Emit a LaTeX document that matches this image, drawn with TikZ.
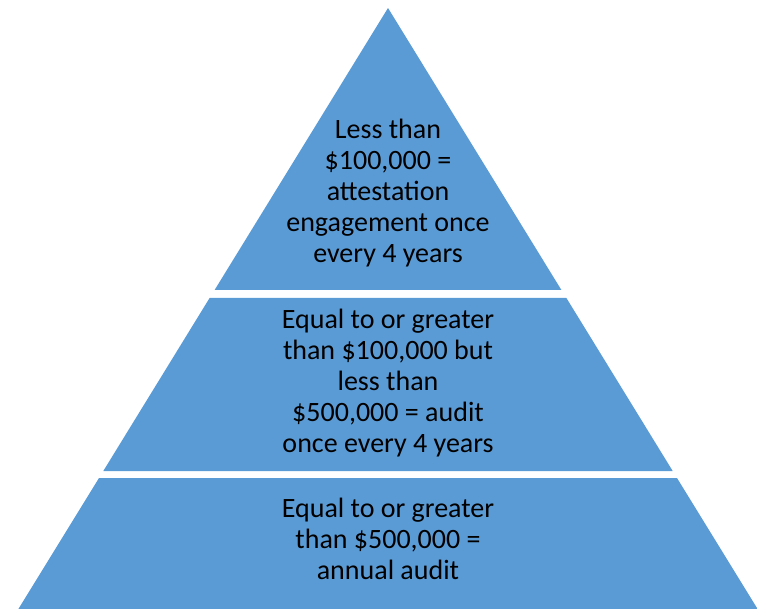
\documentclass[tikz,border=0pt]{standalone}
\usepackage{fontspec}
\setmainfont{Carlito}
\definecolor{tierblue}{HTML}{5B9BD5}
\begin{document}
\begin{tikzpicture}[x=1pt, y=-1pt, tier/.style = {fill=tierblue}, tiertext/.style = {align=center, text=black, font=\fontsize{28}{31}\selectfont}]
		\useasboundingbox (0,0) rectangle (757,609);
		\clip (0,0) rectangle (757,609);
		% Tiers
		\fill[tier] (388,8) -- (561.4,290) -- (214.6,290) -- cycle;			% top
		\fill[tier] (209.6,298) -- (566.4,298) -- (672.7,471) -- (103.3,471) -- cycle;	% middle
		\fill[tier] (99,478) -- (677,478) -- (757.6,609) -- (18.4,609) -- cycle;		% bottom
		% Texts
		\node[tiertext] (toptext) at (388,193) {Less than\\\$100,000 =\\attestation\\engagement once\\every 4 years};
		\node[tiertext] (midtext) at (388,383) {Equal to or greater\\than \$100,000 but\\less than\\\$500,000 = audit\\once every 4 years};
		\node[tiertext] (basetext) at (388,539) {Equal to or greater\\than \$500,000 =\\annual audit};
		\end{tikzpicture}
\end{document}
